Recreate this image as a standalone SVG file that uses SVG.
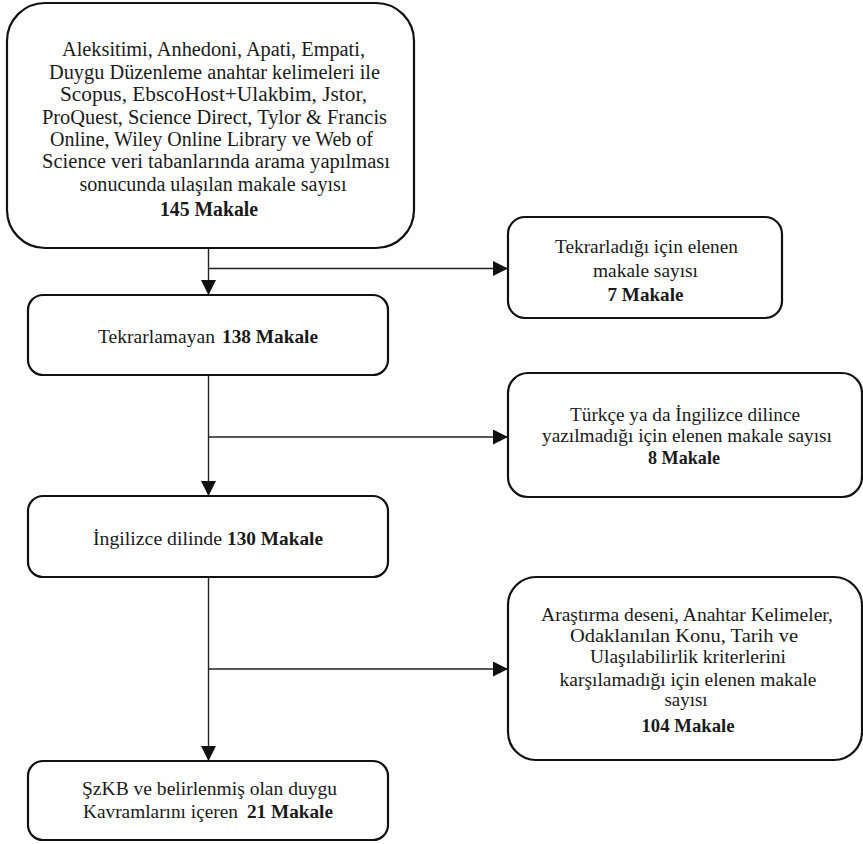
<svg xmlns="http://www.w3.org/2000/svg" width="863" height="844" viewBox="0 0 863 844">
<style>
.box{fill:#fff;stroke:#111;stroke-width:2.2}
.con{fill:none;stroke:#222;stroke-width:1.4}
text{font-family:"Liberation Serif","Times New Roman",serif;font-size:19.5px;fill:#1a1a1a;text-anchor:middle}
.big{font-size:20.5px}
.b{font-weight:bold}
.st{text-anchor:start}
</style>
<defs>
<marker id="ah" markerUnits="userSpaceOnUse" markerWidth="16" markerHeight="16" refX="15" refY="7.5" orient="auto">
<path d="M0,0 L15,7.5 L0,15 z" fill="#111"/>
</marker>
</defs>
<g id="connectors">
<line class="con" x1="208.5" y1="248" x2="208.5" y2="295" marker-end="url(#ah)"/>
<line class="con" x1="208.5" y1="268.5" x2="508" y2="268.5" marker-end="url(#ah)"/>
<line class="con" x1="208.5" y1="375" x2="208.5" y2="496" marker-end="url(#ah)"/>
<line class="con" x1="208.5" y1="437" x2="508" y2="437" marker-end="url(#ah)"/>
<line class="con" x1="208.5" y1="577" x2="208.5" y2="761" marker-end="url(#ah)"/>
<line class="con" x1="208.5" y1="669" x2="508" y2="669" marker-end="url(#ah)"/>
</g>
<g id="n_search">
<rect class="box" x="7" y="3" width="407" height="245" rx="38"/>
<text class="big" x="213.5" y="56" textLength="303" lengthAdjust="spacingAndGlyphs">Aleksitimi, Anhedoni, Apati, Empati,</text>
<text class="big" x="214.5" y="78.5" textLength="331" lengthAdjust="spacingAndGlyphs">Duygu Düzenleme anahtar kelimeleri ile</text>
<text class="big" x="213.5" y="101" textLength="307" lengthAdjust="spacingAndGlyphs">Scopus, EbscoHost+Ulakbim, Jstor,</text>
<text class="big" x="214.5" y="123.5" textLength="345" lengthAdjust="spacingAndGlyphs">ProQuest, Science Direct, Tylor &amp; Francis</text>
<text class="big" x="211.5" y="146" textLength="323" lengthAdjust="spacingAndGlyphs">Online, Wiley Online Library ve Web of</text>
<text class="big" x="216" y="168" textLength="348" lengthAdjust="spacingAndGlyphs">Science veri tabanlarında arama yapılması</text>
<text class="big" x="213" y="190.5" textLength="267" lengthAdjust="spacingAndGlyphs">sonucunda ulaşılan makale sayısı</text>
<text class="big b" x="209" y="216" textLength="98" lengthAdjust="spacingAndGlyphs">145 Makale</text>
</g>
<g id="n_dup">
<rect class="box" x="508" y="217" width="274" height="101" rx="17"/>
<text x="646.5" y="253" textLength="183" lengthAdjust="spacingAndGlyphs">Tekrarladığı için elenen</text>
<text x="645.5" y="277" textLength="105" lengthAdjust="spacingAndGlyphs">makale sayısı</text>
<text class="b" x="645.5" y="301" textLength="76" lengthAdjust="spacingAndGlyphs">7 Makale</text>
</g>
<g id="n_unique">
<rect class="box" x="28" y="295" width="360" height="80" rx="15"/>
<text class="st" x="98" y="343" textLength="117" lengthAdjust="spacingAndGlyphs">Tekrarlamayan</text>
<text class="st b" x="222" y="343" textLength="96" lengthAdjust="spacingAndGlyphs">138 Makale</text>
</g>
<g id="n_lang">
<rect class="box" x="508" y="373" width="354" height="124" rx="20"/>
<text x="685" y="421" textLength="230" lengthAdjust="spacingAndGlyphs">Türkçe ya da İngilizce dilince</text>
<text x="687" y="442" textLength="290" lengthAdjust="spacingAndGlyphs">yazılmadığı için elenen makale sayısı</text>
<text class="b" x="684" y="464" textLength="72" lengthAdjust="spacingAndGlyphs">8 Makale</text>
</g>
<g id="n_english">
<rect class="box" x="28" y="496" width="360" height="81" rx="15"/>
<text class="st" x="93" y="545" textLength="129" lengthAdjust="spacingAndGlyphs">İngilizce dilinde</text>
<text class="st b" x="227" y="545" textLength="96" lengthAdjust="spacingAndGlyphs">130 Makale</text>
</g>
<g id="n_criteria">
<rect class="box" x="508" y="577" width="354" height="183" rx="28"/>
<text x="687" y="621" textLength="292" lengthAdjust="spacingAndGlyphs">Araştırma deseni, Anahtar Kelimeler,</text>
<text x="684" y="642" textLength="228" lengthAdjust="spacingAndGlyphs">Odaklanılan Konu, Tarih ve</text>
<text x="688" y="663" textLength="196" lengthAdjust="spacingAndGlyphs">Ulaşılabilirlik kriterlerini</text>
<text x="688" y="686" textLength="257" lengthAdjust="spacingAndGlyphs">karşılamadığı için elenen makale</text>
<text x="686" y="706" textLength="43" lengthAdjust="spacingAndGlyphs">sayısı</text>
<text class="b" x="688" y="732" textLength="93" lengthAdjust="spacingAndGlyphs">104 Makale</text>
</g>
<g id="n_final">
<rect class="box" x="28" y="761" width="360" height="79" rx="15"/>
<text x="209.5" y="795" textLength="255" lengthAdjust="spacingAndGlyphs">ŞzKB ve belirlenmiş olan duygu</text>
<text class="st" x="83" y="818" textLength="155" lengthAdjust="spacingAndGlyphs">Kavramlarını içeren</text>
<text class="st b" x="247" y="818" textLength="86" lengthAdjust="spacingAndGlyphs">21 Makale</text>
</g>
</svg>
